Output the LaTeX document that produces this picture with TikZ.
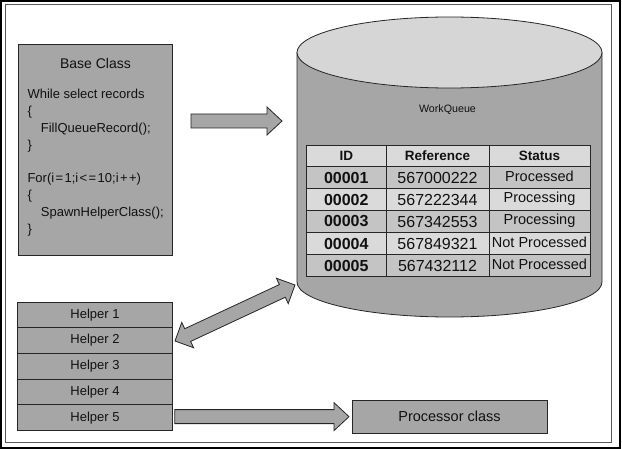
\documentclass[tikz,border=0pt]{standalone}
\usepackage{fontspec}
\setmainfont{Liberation Sans}
\usetikzlibrary{calc}
\definecolor{boxgray}{HTML}{A6A6A6}
\definecolor{lightrow}{HTML}{DADADA}
\definecolor{darkrow}{HTML}{C4C4C4}
\definecolor{topgray}{HTML}{D6D6D6}
\definecolor{edge}{HTML}{262626}
\definecolor{txt}{HTML}{111111}
\newcommand\sk{\kern1.4pt}
\newcommand\blockarrow[2]{%
  \coordinate (ba-h) at ($(#2)!15pt!(#1)$);
  \draw[barrow] ($(#1)!7pt!90:(#2)$) -- ($(ba-h)!7pt!90:(#2)$) -- ($(ba-h)!14pt!90:(#2)$) -- (#2)
    -- ($(ba-h)!14pt!-90:(#2)$) -- ($(ba-h)!7pt!-90:(#2)$) -- ($(#1)!7pt!-90:(#2)$) -- cycle;}
\newcommand\dblockarrow[2]{%
  \coordinate (da-h1) at ($(#1)!14pt!(#2)$);
  \coordinate (da-h2) at ($(#2)!14pt!(#1)$);
  \draw[barrow] (#1) -- ($(da-h1)!14pt!90:(#2)$) -- ($(da-h1)!7pt!90:(#2)$) -- ($(da-h2)!7pt!90:(#2)$)
    -- ($(da-h2)!14pt!90:(#2)$) -- (#2) -- ($(da-h2)!14pt!-90:(#2)$) -- ($(da-h2)!7pt!-90:(#2)$)
    -- ($(da-h1)!7pt!-90:(#2)$) -- ($(da-h1)!14pt!-90:(#2)$) -- cycle;}
\begin{document}
\begin{tikzpicture}[x=1pt,y=-1pt,
  graybox/.style={draw=edge,line width=0.8pt,fill=boxgray,inner sep=0pt,outer sep=0pt},
  barrow/.style={draw=edge,line width=0.8pt,fill=boxgray,line join=miter},
  codeline/.style={anchor=base west,inner sep=0pt,font=\fontsize{13}{15}\selectfont,text=txt},
  helperbox/.style={graybox,minimum width=154.5pt,minimum height=25.7pt,font=\fontsize{13}{15}\selectfont,text=txt},
  hdr/.style={font=\fontsize{13.5}{15}\selectfont\bfseries,text=txt,inner sep=0pt},
  idcell/.style={font=\fontsize{16}{18}\selectfont\bfseries,text=txt,inner sep=0pt},
  refcell/.style={font=\fontsize{16}{18}\selectfont,text=txt,inner sep=0pt},
  stcell/.style={font=\fontsize{14.5}{16}\selectfont,text=txt,inner sep=0pt},
  tline/.style={draw=edge,line width=0.8pt}]
\useasboundingbox (0,0) rectangle (622,449);
\fill[white] (0,0) rectangle (622,449);
% frames
\draw[black,line width=1.8pt] (0.9,0.9) rectangle (620.2,448.1);
\draw[gray!70!black,line width=0.8pt] (5.5,4.5) rectangle (611,442);

% base class box
\node[graybox,minimum width=154pt,minimum height=211pt] (base) at (95,149.5) {};
\node[anchor=base,inner sep=0pt,font=\fontsize{14}{16}\selectfont,text=txt] (basetitle) at (95.5,68.7) {Base Class};
\node[codeline] (l1) at (27.3,98.3) {While select records};
\node[codeline] (l2) at (27.3,115.3) {\{};
\node[codeline] (l3) at (40.7,132.3) {FillQueueRecord();};
\node[codeline] (l4) at (27.3,149.3) {\}};
\node[codeline] (l5) at (27.3,182.7) {For(i\sk=\sk1;i\sk<\sk=\sk10;i\sk+\sk+)};
\node[codeline] (l6) at (27.3,199.7) {\{};
\node[codeline] (l7) at (40.7,216.7) {SpawnHelperClass();};
\node[codeline] (l8) at (27.3,233.7) {\}};

% cylinder
\draw[edge,line width=0.8pt,fill=boxgray] (297,52.5) -- (297,282)
  arc[start angle=180,end angle=0,x radius=152.5,y radius=35] -- (602,52.5) -- cycle;
\draw[edge,line width=0.8pt,fill=topgray] (449.5,52.5) ellipse [x radius=152.5, y radius=35.5];
\node[inner sep=0pt,minimum width=305pt,minimum height=300pt] (wq) at (449.5,170) {};
\node[inner sep=0pt,font=\fontsize{10.7}{12}\selectfont,text=txt] (wqlabel) at (447.5,110) {WorkQueue};

% table
\fill[lightrow] (306.5,145) rectangle (590,166);
\fill[darkrow]  (306.5,166) rectangle (590,188);
\fill[lightrow] (306.5,188) rectangle (590,210);
\fill[darkrow]  (306.5,210) rectangle (590,232);
\fill[lightrow] (306.5,232) rectangle (590,254);
\fill[darkrow]  (306.5,254) rectangle (590,276);
\draw[tline] (306.5,145) rectangle (590,276);
\foreach \yy in {166,188,210,232,254} \draw[tline] (306.5,\yy) -- (590,\yy);
\draw[tline] (386,145) -- (386,276);
\draw[tline] (489,145) -- (489,276);
\node[hdr] (hid) at (346.25,156) {ID};
\node[hdr] (href) at (437.5,156) {Reference};
\node[hdr] (hst) at (539.5,156) {Status};
\node[idcell] (id1) at (346.25,177.5) {00001};
\node[idcell] (id2) at (346.25,199.5) {00002};
\node[idcell] (id3) at (346.25,221.5) {00003};
\node[idcell] (id4) at (346.25,243.5) {00004};
\node[idcell] (id5) at (346.25,265.5) {00005};
\node[refcell] (r1) at (437.5,177.5) {567000222};
\node[refcell] (r2) at (437.5,199.5) {567222344};
\node[refcell] (r3) at (437.5,221.5) {567342553};
\node[refcell] (r4) at (437.5,243.5) {567849321};
\node[refcell] (r5) at (437.5,265.5) {567432112};
\node[stcell] (s1) at (539.5,176.5) {Processed};
\node[stcell] (s2) at (539.5,198.5) {Processing};
\node[stcell] (s3) at (539.5,220.5) {Processing};
\node[stcell] (s4) at (539.5,242.5) {Not Processed};
\node[stcell] (s5) at (539.5,264.5) {Not Processed};

% helpers
\node[helperbox] (h1) at (95,314.85) {Helper 1};
\node[helperbox] (h2) at (95,340.55) {Helper 2};
\node[helperbox] (h3) at (95,366.25) {Helper 3};
\node[helperbox] (h4) at (95,391.95) {Helper 4};
\node[helperbox] (h5) at (95,417.65) {Helper 5};

% processor
\node[graybox,minimum width=195pt,minimum height=33pt,font=\fontsize{14.5}{16}\selectfont,text=txt] (proc) at (449.5,416.5) {Processor class};

% arrows
\coordinate (a1s) at (191,121);
\coordinate (a1e) at (282,121);
\blockarrow{a1s}{a1e}
\coordinate (a2s) at (175,341);
\coordinate (a2e) at (295,285);
\dblockarrow{a2s}{a2e}
\coordinate (a3s) at ($(h5.east)+(2.5,-1)$);
\coordinate (a3e) at ($(a3s -| proc.west)+(-3,0)$);
\blockarrow{a3s}{a3e}
\end{tikzpicture}
\end{document}
